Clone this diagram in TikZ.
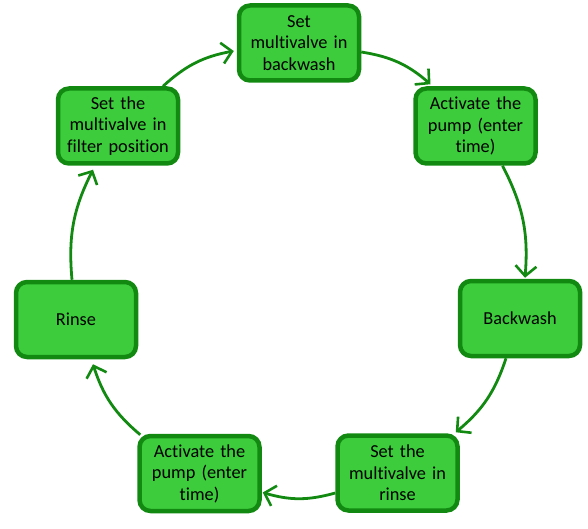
\documentclass[tikz,border=0pt]{standalone}
\usepackage{fontspec}
\setmainfont{Carlito}[Ligatures=CommonOff]
\usetikzlibrary{arrows.meta}
\definecolor{boxfill}{RGB}{60,204,60}
\definecolor{boxline}{RGB}{18,138,18}
\begin{document}
\begin{tikzpicture}[x=1pt,y=1pt,
  stepbox/.style={draw=boxline, fill=boxfill, line width=4.5pt, rounded corners=11pt,
    minimum width=120pt, minimum height=75pt, inner sep=2pt, align=center,
    text width=114pt, font=\fontsize{18.3}{21.5}\selectfont},
  flow/.style={draw=boxline, line width=2.8pt,
    -{Straight Barb[length=10pt,width=21pt,line width=2.6pt]}, bend left=16}]
\useasboundingbox (0,0) rectangle (588,-529);
\node[stepbox] (T)  at (299,-43)    {Set\\multivalve in\\backwash};
\node[stepbox] (A1) at (475.5,-126) {Activate the\\pump (enter\\time)};
\node[stepbox] (B)  at (520,-318.5) {Backwash};
\node[stepbox] (S)  at (397.5,-473) {Set the\\multivalve in\\rinse};
\node[stepbox] (A2) at (199.5,-473.5) {Activate the\\pump (enter\\time)};
\node[stepbox] (R)  at (76,-319.5)  {Rinse};
\node[stepbox] (F)  at (118,-126)   {Set the\\multivalve in\\filter position};

\draw[flow] ([xshift=45pt]F.north) to ([xshift=-3pt,yshift=-8pt]T.west);
\draw[flow] ([yshift=-9pt]T.east) to ([xshift=-45pt,yshift=2pt]A1.north);
\draw[flow] ([xshift=27pt]A1.south) to ([xshift=5pt,yshift=1pt]B.north);
\draw[flow] ([xshift=-14pt]B.south) to ([xshift=-4pt,yshift=1pt]S.north east);
\draw[flow] ([yshift=-20pt]S.west) to ([xshift=1pt,yshift=-19pt]A2.east);
\draw[flow] ([xshift=3pt,yshift=-1pt]A2.north west) to ([xshift=17pt,yshift=-5pt]R.south);
\draw[flow] ([xshift=-4pt]R.north) to ([xshift=-25pt,yshift=-4pt]F.south);
\end{tikzpicture}
\end{document}
